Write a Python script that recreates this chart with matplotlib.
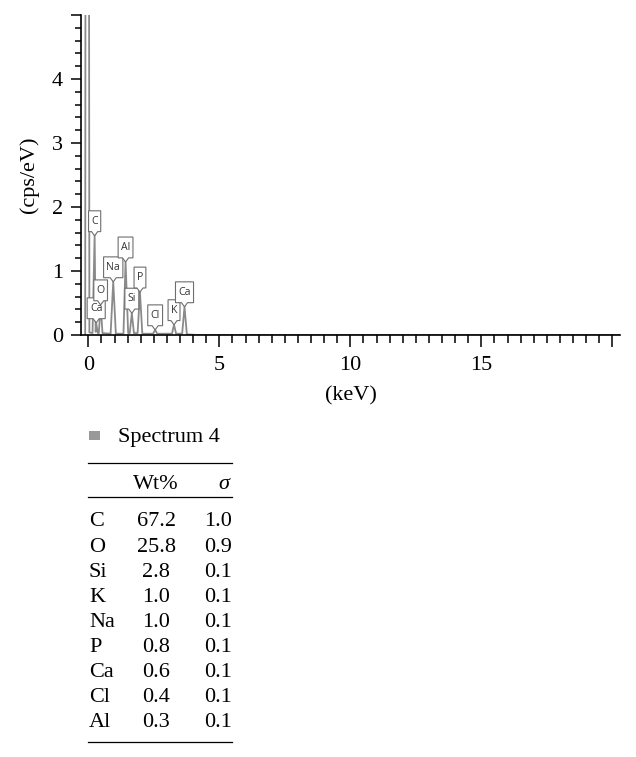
import matplotlib
matplotlib.use("Agg")
import matplotlib.pyplot as plt
import matplotlib.transforms as mtransforms
from matplotlib.patches import Polygon, Rectangle
from matplotlib.lines import Line2D
from matplotlib.ticker import MultipleLocator

# ---------------- data ----------------
spectrum_kev = [-0.12, -0.05, 0.04, 0.16, 0.24, 0.28, 0.30, 0.36, 0.40, 0.47, 0.54,
                0.85, 0.95, 1.05, 1.34, 1.42, 1.52, 1.58, 1.66, 1.74, 1.88, 1.97,
                2.06, 2.47, 2.55, 2.63, 3.19, 3.27, 3.35, 3.58, 3.67, 3.76, 4.20, 20.3]
spectrum_cps = [0.0, 40.0, 0.04, 0.03, 1.55, 0.05, 0.19, 0.03, 0.03, 0.47, 0.03,
                0.02, 0.83, 0.02, 0.02, 1.14, 0.03, 0.03, 0.34, 0.03, 0.03, 0.67,
                0.02, 0.02, 0.08, 0.02, 0.02, 0.16, 0.02, 0.02, 0.44, 0.01, 0.0, 0.0]

peak_labels = ["C", "Ca", "O", "Na", "Al", "Si", "P", "Cl", "K", "Ca"]
peak_kev = [0.24, 0.30, 0.47, 0.95, 1.42, 1.66, 1.97, 2.55, 3.27, 3.67]
peak_cps = [1.55, 0.19, 0.47, 0.83, 1.14, 0.34, 0.67, 0.08, 0.16, 0.44]

x_ticks = [0, 5, 10, 15]
y_ticks = [0, 1, 2, 3, 4]

legend_label = "Spectrum 4"
table_elements = ["C", "O", "Si", "K", "Na", "P", "Ca", "Cl", "Al"]
table_wt = [67.2, 25.8, 2.8, 1.0, 1.0, 0.8, 0.6, 0.4, 0.3]
table_sigma = [1.0, 0.9, 0.1, 0.1, 0.1, 0.1, 0.1, 0.1, 0.1]

# ---------------- figure ----------------
W, H = 636, 757
fig = plt.figure(figsize=(W / 100, H / 100), dpi=100)
serif = ["Liberation Serif", "DejaVu Serif"]
FS = 16


def fx(px):
    return px / W


def fy(py):
    return 1 - py / H


ax = fig.add_axes([fx(81), fy(335), (620 - 81) / W, (335 - 15) / H])
ax.set_xlim(-0.28, 20.29)
ax.set_ylim(0, 5)

ax.plot(spectrum_kev, spectrum_cps, color="#8a8a8a", lw=1.3, zorder=2)

for s in ["top", "right"]:
    ax.spines[s].set_visible(False)
for s in ["left", "bottom"]:
    ax.spines[s].set_linewidth(1.2)
    ax.spines[s].set_color("black")

ax.set_xticks(x_ticks + [20])
ax.set_xticklabels([str(t) for t in x_ticks] + [""])
ax.xaxis.set_minor_locator(MultipleLocator(0.5))
ax.set_yticks(y_ticks + [5])
ax.set_yticklabels([str(t) for t in y_ticks] + [""])
ax.yaxis.set_minor_locator(MultipleLocator(0.2))
ax.tick_params(axis="x", which="major", length=8.4, width=1.1, direction="out", pad=6.5)
ax.tick_params(axis="x", which="minor", length=5.5, width=1.1, direction="out")
ax.tick_params(axis="y", which="major", length=7, width=1.1, direction="out", pad=6)
ax.tick_params(axis="y", which="minor", length=4, width=1.1, direction="out")
for lab in ax.get_xticklabels() + ax.get_yticklabels():
    lab.set_fontfamily(serif)
    lab.set_fontsize(FS)

ax.set_xlabel("(keV)", fontfamily=serif, fontsize=FS, labelpad=8)
ax.set_ylabel("(cps/eV)", fontfamily=serif, fontsize=FS, labelpad=9)

# ---------------- peak callouts ----------------
box_h = 15.0   # points
ptr_h = 3.0
ptr_w = 2.2
renderer = fig.canvas.get_renderer()
for lab, xk, yc in zip(peak_labels, peak_kev, peak_cps):
    t = ax.annotate(lab, (xk, yc), xytext=(0, ptr_h + box_h / 2 - 0.2),
                    textcoords="offset points", ha="center", va="center",
                    fontsize=7.6, color="#333333",
                    fontfamily=["Open Sans", "DejaVu Sans"],
                    zorder=5, annotation_clip=False)
    tw = t.get_window_extent(renderer).width * 72.0 / fig.dpi
    w = tw + 4.0
    verts = [(0, 0), (ptr_w, ptr_h), (w / 2, ptr_h), (w / 2, ptr_h + box_h),
             (-w / 2, ptr_h + box_h), (-w / 2, ptr_h), (-ptr_w, ptr_h)]
    tr = (mtransforms.Affine2D().scale(1 / 72.0) + fig.dpi_scale_trans
          + mtransforms.ScaledTranslation(xk, yc, ax.transData))
    poly = Polygon(verts, closed=True, transform=tr, facecolor="white",
                   edgecolor="#6e6e6e", lw=0.8, zorder=4, clip_on=False)
    ax.add_patch(poly)

# ---------------- legend ----------------
fig.patches.append(Rectangle((fx(88.5), fy(440)), 11.5 / W, 9 / H,
                             transform=fig.transFigure, facecolor="#999999",
                             edgecolor="none"))
fig.text(fx(118), fy(435), legend_label, fontfamily=serif, fontsize=FS,
         ha="left", va="center_baseline")

# ---------------- table ----------------
x0, x1 = 88, 232
for yy in [462.7, 497.5, 741.7]:
    fig.add_artist(Line2D([fx(x0), fx(x1)], [fy(yy), fy(yy)], transform=fig.transFigure,
                          color="black", lw=0.9))
fig.text(fx(156), fy(482), "Wt%", fontfamily=serif, fontsize=FS, ha="center",
         va="center_baseline")
fig.text(fx(224), fy(482), "σ", fontfamily=serif, fontsize=FS, ha="center",
         va="center_baseline", style="italic")
row0 = 519.5
dy = 25.05
for i, (el, wv, sv) in enumerate(zip(table_elements, table_wt, table_sigma)):
    yy = row0 + i * dy
    fig.text(fx(89), fy(yy), el, fontfamily=serif, fontsize=FS, ha="left",
             va="center_baseline")
    fig.text(fx(156), fy(yy), f"{wv:.1f}", fontfamily=serif, fontsize=FS,
             ha="center", va="center_baseline")
    fig.text(fx(218), fy(yy), f"{sv:.1f}", fontfamily=serif, fontsize=FS,
             ha="center", va="center_baseline")

fig.savefig("out.png", dpi=100)
